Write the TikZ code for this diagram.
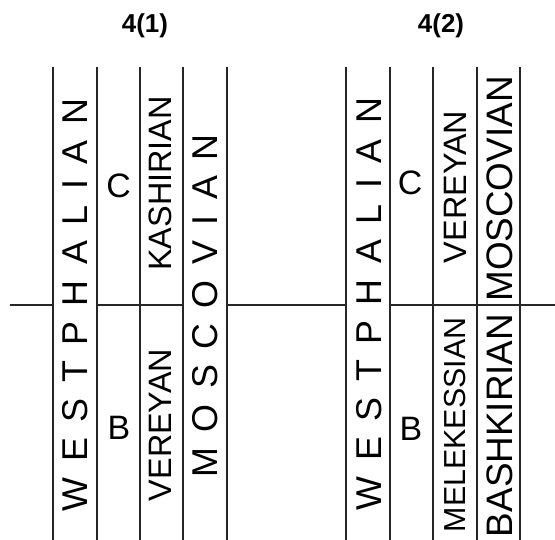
\documentclass[tikz,border=0pt]{standalone}
\usepackage{fontspec}
\setmainfont{Liberation Sans}
\newcommand{\lettergap}{\hspace{15.5bp}}
\begin{document}
\begin{tikzpicture}[x=1bp,y=1bp,
  rule/.style={line width=1.6bp, draw=black!85},
  vtext/.style={rotate=90, inner sep=0pt, anchor=center},
  spaced/.style={vtext, font=\fontsize{36}{36}\selectfont},
  stagebig/.style={vtext, font=\fontsize{37}{37}\selectfont},
  stagemid/.style={vtext, font=\fontsize{32.5}{33}\selectfont},
  stagesmall/.style={vtext, font=\fontsize{30.5}{31}\selectfont},
  letter/.style={inner sep=0pt, anchor=center, font=\fontsize{34}{34}\selectfont},
  title/.style={inner sep=0pt, anchor=base, font=\fontsize{26}{26}\selectfont\bfseries}]
\useasboundingbox (0,0) rectangle (555,540);

% titles
\node[title] (t1) at (145,507) {4(1)};
\node[title] (t2) at (441,507) {4(2)};

% column boundaries
\foreach \n/\x in {a/53,b/97,c/140,d/183,e/227,f/346,g/390,h/433,i/477,j/520}{
  \coordinate (top\n) at (\x,473);
  \coordinate (bot\n) at (\x,0);
  \coordinate (mid\n) at (\x,235);
  \draw[rule] (top\n) -- (bot\n);
}
\coordinate (leftend) at (10,235);
\coordinate (rightend) at (555,235);

% boundary line
\draw[rule] (leftend) -- (mida);
\draw[rule] (midb) -- (midd);
\draw[rule] (mide) -- (midf);
\draw[rule] (midg) -- (rightend);

% 4(1)
\node[spaced] (w1) at (75,235) {W\lettergap E\lettergap S\lettergap T\lettergap P\lettergap H\lettergap A\lettergap L\lettergap I\lettergap A\lettergap N};
\node[letter] (c1) at (118.5,354) {C};
\node[letter] (b1) at (119,112) {B};
\node[stagemid] (k1) at (160,356.5) {KASHIRIAN};
\node[stagemid] (v1) at (160,115) {VEREYAN};
\node[spaced] (m1) at (205,234) {M\lettergap O\lettergap S\lettergap C\lettergap O\lettergap V\lettergap I\lettergap A\lettergap N};

% 4(2)
\node[spaced] (w2) at (369,236) {W\lettergap E\lettergap S\lettergap T\lettergap P\lettergap H\lettergap A\lettergap L\lettergap I\lettergap A\lettergap N};
\node[letter] (c2) at (410,357) {C};
\node[letter] (b2) at (411,111) {B};
\node[stagemid] (v2) at (455,353) {VEREYAN};
\node[stagesmall] (me2) at (455,115) {MELEKESSIAN};
\node[stagebig] (m2) at (500,351) {MOSCOVIAN};
\node[stagebig] (ba2) at (500,114.5) {BASHKIRIAN};
\end{tikzpicture}
\end{document}
